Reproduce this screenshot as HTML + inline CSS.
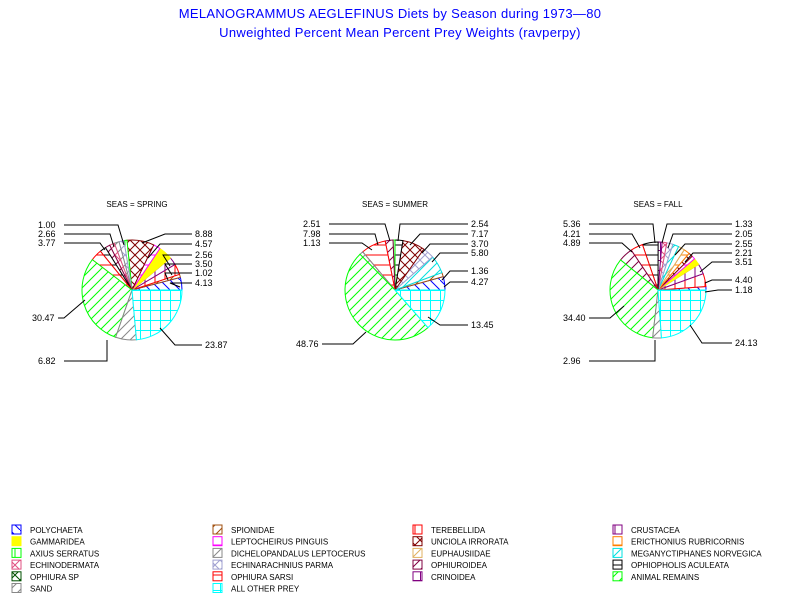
<!DOCTYPE html><html><head><style>body{margin:0;background:#fff}svg{display:block}text{font-family:"Liberation Sans",sans-serif}</style></head><body>
<svg id="s" width="800" height="600" xmlns="http://www.w3.org/2000/svg">
<defs id="d"></defs>
<text x="390" y="18" text-anchor="middle" font-size="13" fill="#0000ff" letter-spacing="0.3">MELANOGRAMMUS AEGLEFINUS Diets by Season during 1973—80</text>
<text x="400" y="37" text-anchor="middle" font-size="13" fill="#0000ff" letter-spacing="0.3">Unweighted Percent Mean Percent Prey  Weights (ravperpy)</text>
</svg>
<script>
const S=document.getElementById('s'),D=document.getElementById('d'),NS='http://www.w3.org/2000/svg';
function el(t,a,p){const e=document.createElementNS(NS,t);for(const k in a)e.setAttribute(k,a[k]);(p||S).appendChild(e);return e;}
function txt(x,y,s,sz,anchor){const e=el('text',{x:x,y:y,'font-size':sz||9,'text-anchor':anchor||'start'});e.textContent=s;return e;}
const C={poly:['#0000ff','r'],gam:['#ffff00','s'],axius:['#00ff00','v'],echd:['#e05080','x'],oph:['#005000','x'],sand:['#888888','l'],
spio:['#a05010','l'],lept:['#ff00ff','h'],dich:['#888888','l'],echp:['#a0a0d0','x'],osar:['#ff0000','h'],other:['#00ffff','g'],
tere:['#ff0000','v'],unc:['#800000','x'],euph:['#e0b060','l'],opd:['#800040','l'],crin:['#800080','g'],crus:['#800080','v'],
eric:['#ff8000','h'],mega:['#00e0e0','l'],ophp:['#000000','h'],anim:['#00ff00','l']};
const P=10;
for(const k in C){const [c,t]=C[k];const p=el('pattern',{id:'p'+k,width:P,height:P,patternUnits:'userSpaceOnUse'},D);
el('rect',{width:P,height:P,fill:t=='s'?c:'#fff'},p);
const L=(a)=>el('path',{d:a,stroke:c,'stroke-width':1,fill:'none'},p);
if(t=='l')L(`M0,${P}L${P},0M-2,2L2,-2M${P-2},${P+2}L${P+2},${P-2}`);if(t=='r')L(`M0,0L${P},${P}`);if(t=='v')L(`M${P/2},0V${P}`);if(t=='h')L(`M0,${P/2}H${P}`);
if(t=='x')L(`M0,0L${P},${P}M${P},0L0,${P}`);if(t=='g')L(`M0,0.5H${P}M0.5,0V${P}`);}
function pie(cx,cy,r,sl){let tot=sl.reduce((a,b)=>a+b[1],0),a=0;
for(const [k,v] of sl){const a2=a+v/tot*2*Math.PI;
const x1=cx+r*Math.cos(a),y1=cy-r*Math.sin(a),x2=cx+r*Math.cos(a2),y2=cy-r*Math.sin(a2);
el('path',{d:`M${cx},${cy}L${x1},${y1}A${r},${r} 0 ${a2-a>Math.PI?1:0} 0 ${x2},${y2}Z`,fill:'url(#p'+k+')',stroke:C[k][0],'stroke-width':1});a=a2;}}
function lab(list){for(const [lx,ly,tx,ex,ey,s,side] of list){
el('polyline',{points:`${side?tx-3:tx+26},${ly} ${lx},${ly} ${ex},${ey}`,fill:'none',stroke:'#000','stroke-width':1});
txt(tx,ly+3,s,9);}}
txt(137,207,'SEAS = SPRING',8,'middle');txt(395,207,'SEAS = SUMMER',8,'middle');txt(658,207,'SEAS = FALL',8,'middle');
pie(132,290,50,[['poly',4.13],['spio',1.02],['tere',3.5],['crus',2.56],['gam',4.57],['lept',2.3],['unc',8.88],['axius',1],['echp',1.6],['dich',1.6],['echd',1.6],['opd',1.6],['ophp',2],['osar',3.77],['anim',30.47],['sand',6.82],['other',23.87]]);
lab([[118,225,38,124,245,'1.00'],[110,234,38,114,247,'2.66'],[100,243,38,105,250,'3.77'],[64,318,32,85,300,'30.47'],[107,361,38,107,340,'6.82'],
[165,234,195,142,243,'8.88',1],[160,244,195,148,258,'4.57',1],[163,255,195,170,266,'2.56',1],[165,264,195,172,275,'3.50',1],[165,273,195,168,280,'1.02',1],[170,283,195,180,287,'4.13',1],[175,345,205,160,328,'23.87',1]]);
pie(395,290,50,[['poly',4.27],['spio',1.36],['mega',5.8],['echp',3.7],['unc',7.17],['ophp',2.54],['axius',0.6],['opd',2.51],['osar',7.98],['dich',1.13],['anim',48.76],['other',13.45]]);
lab([[385,224,303,390,241,'2.51'],[375,234,303,378,245,'7.98'],[362,243,303,372,250,'1.13'],[353,344,296,366,332,'48.76'],
[400,224,471,398,241,'2.54',1],[420,234,471,410,245,'7.17',1],[430,244,471,422,253,'3.70',1],[440,253,471,432,262,'5.80',1],[450,271,471,442,280,'1.36',1],[450,282,471,444,287,'4.27',1],[440,325,471,428,317,'13.45',1]]);
pie(658,290,48,[['poly',1.18],['tere',4.4],['crus',3.51],['gam',2.3],['lept',1.2],['unc',1.4],['eric',2.0],['euph',2.2],['mega',2.05],['echp',2.1],['echd',1.6],['crin',1.33],['ophp',5.36],['osar',4.21],['opd',4.89],['anim',34.4],['sand',2.96],['other',24.13]]);
lab([[653,224,563,655,243,'5.36'],[632,234,563,640,248,'4.21'],[622,243,563,632,252,'4.89'],[610,318,563,624,306,'34.40'],[655,361,563,655,340,'2.96'],
[667,224,735,662,243,'1.33',1],[673,234,735,668,248,'2.05',1],[685,244,735,675,255,'2.55',1],[693,253,735,685,262,'2.21',1],[712,262,735,700,272,'3.51',1],[712,280,735,705,283,'4.40',1],[718,290,735,705,292,'1.18',1],[702,343,735,690,325,'24.13',1]]);
const LG=[['poly','POLYCHAETA'],['spio','SPIONIDAE'],['tere','TEREBELLIDA'],['crus','CRUSTACEA'],
['gam','GAMMARIDEA'],['lept','LEPTOCHEIRUS PINGUIS'],['unc','UNCIOLA IRRORATA'],['eric','ERICTHONIUS RUBRICORNIS'],
['axius','AXIUS SERRATUS'],['dich','DICHELOPANDALUS LEPTOCERUS'],['euph','EUPHAUSIIDAE'],['mega','MEGANYCTIPHANES NORVEGICA'],
['echd','ECHINODERMATA'],['echp','ECHINARACHNIUS PARMA'],['opd','OPHIUROIDEA'],['ophp','OPHIOPHOLIS ACULEATA'],
['oph','OPHIURA SP'],['osar','OPHIURA SARSI'],['crin','CRINOIDEA'],['anim','ANIMAL REMAINS'],
['sand','SAND'],['other','ALL OTHER PREY']];
const XS=[12,213,413,613];
LG.forEach(([k,n],i)=>{const r=Math.floor(i/4),c=i%4,x=XS[c],y=525+r*11.7;
el('rect',{x:x,y:y,width:9,height:9,fill:'url(#p'+k+')',stroke:C[k][0],'stroke-width':1});txt(x+18,y+8,n,8);});
</script></body></html>
